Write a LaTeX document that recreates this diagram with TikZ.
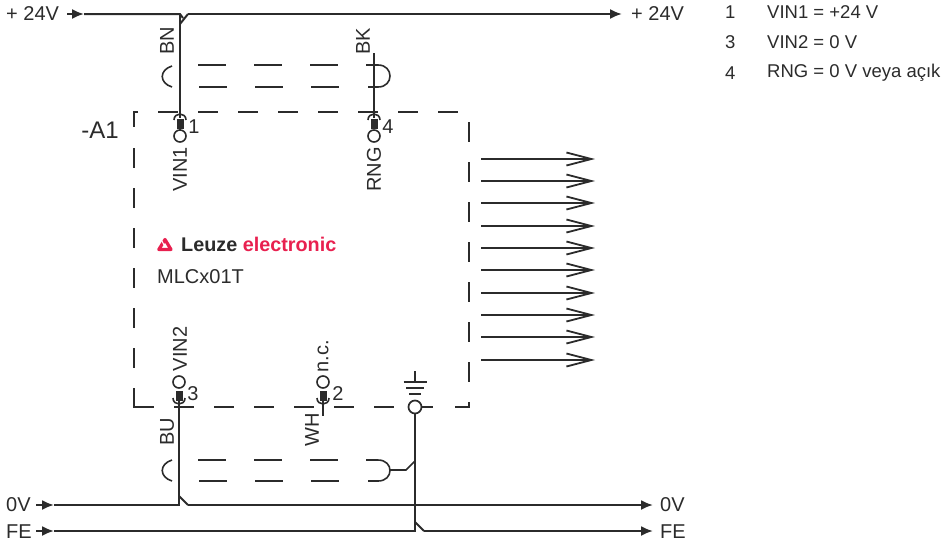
\documentclass[tikz,border=0pt]{standalone}
\usepackage{fontspec}
\setmainfont{Liberation Sans}
\usetikzlibrary{arrows.meta}
\definecolor{wirecol}{HTML}{2B2B2B}
\definecolor{leuzered}{HTML}{E8204F}
\tikzset{
    wire/.style={draw=wirecol,line width=2pt},
    thin wire/.style={draw=wirecol,line width=1.6pt},
    box dash/.style={draw=wirecol,line width=1.7pt,dash pattern=on 20pt off 20pt},
    box edge/.style={draw=wirecol,line width=1.7pt},
    in tip/.style={-{Latex[length=12pt,width=10pt]}},
    out tip/.style={-{Straight Barb[length=25pt,width=13pt,line width=1.8pt]}},
    pincirc/.style={draw=wirecol,circle,line width=1.6pt,fill=white,minimum size=12pt,inner sep=0pt},
    pinplug/.style={fill=wirecol,minimum width=7pt,minimum height=10pt,inner sep=0pt},
    txt/.style={text=wirecol,inner sep=0pt,font=\fontsize{20}{20}\selectfont},
    legend/.style={text=wirecol,inner sep=0pt,anchor=west,font=\fontsize{18.5}{19}\selectfont},
}
\begin{document}
\begin{tikzpicture}[x=1pt,y=-1pt]
        \useasboundingbox (0,0) rectangle (941,550);

        % supply labels
        \node[txt,anchor=west] (l24) at (6,14) {+ 24V};
        \node[txt,anchor=west] (r24) at (631,14) {+ 24V};
        \node[txt,anchor=west] (l0) at (6,505) {0V};
        \node[txt,anchor=west] (r0) at (660,505) {0V};
        \node[txt,anchor=west] (lfe) at (6,532) {FE};
        \node[txt,anchor=west] (rfe) at (660,532) {FE};

        % legend
        \node[legend] (n1) at (725,12) {1};
        \node[legend] (v1) at (767,12) {VIN1 = +24 V};
        \node[legend] (n3) at (725,42) {3};
        \node[legend] (v3) at (767,42) {VIN2 = 0 V};
        \node[legend] (n4) at (725,73) {4};
        \node[legend] (v4) at (767,73) {RNG = 0 V veya açık};

        % dashed device box
        \path[box edge] (138,112) -- (134,112) -- (134,127);
        \path[box dash] (158,112) -- (458,112);
        \path[box dash] (134,148) -- (134,368);
        \path[box edge] (134,388) -- (134,407) -- (154,407);
        \path[box dash] (174,407) -- (394,407);
        \path[box edge] (422,407) -- (433,407);
        \path[box edge] (455,407) -- (469,407) -- (469,402);
        \path[box dash] (469,122) -- (469,382);

        % pins
        \node[pincirc] (vin1) at (180,136) {};
        \node[pinplug] (plug1) at (180,123.5) {};
        \node[pincirc] (rng) at (374,136) {};
        \node[pinplug] (plug4) at (374,123.5) {};
        \node[pincirc] (vin2) at (179,382) {};
        \node[pinplug] (plug3) at (179,395.5) {};
        \node[pincirc] (nc) at (323,382) {};
        \node[pinplug] (plug2) at (323,395.5) {};
        \node[circle,draw=wirecol,line width=1.7pt,minimum size=13pt,inner sep=0pt] (fe) at (415,407) {};

        \node[txt] (t1) at (194,127) {1};
        \node[txt] (t4) at (388,127) {4};
        \node[txt] (t3) at (193,394) {3};
        \node[txt] (t2) at (338,394) {2};

        \node[txt,rotate=90] (tvin1) at (180,169.5) {VIN1};
        \node[txt,rotate=90] (trng) at (374,169.5) {RNG};
        \node[txt,rotate=90] (tvin2) at (180,349) {VIN2};
        \node[txt,rotate=90] (tnc) at (323,356) {n.c.};
        \node[txt,rotate=90] (tbn) at (167,41) {BN};
        \node[txt,rotate=90] (tbk) at (363,41) {BK};
        \node[txt,rotate=90] (tbu) at (167,432) {BU};
        \node[txt,rotate=90] (twh) at (312,430) {WH};

        \node[txt,font=\fontsize{24}{24}\selectfont] (a1) at (100,130) {-A1};
        \node[txt,anchor=west,font=\fontsize{20}{20}\selectfont] (type) at (157,277) {MLCx01T};
        \node[txt,anchor=west,font=\fontsize{19.8}{20}\bfseries] (brand) at (181,244.5) {Leuze \textcolor{leuzered}{electronic}};

        % logo
        \path[draw=leuzered,line width=3.2pt,line join=round] (165,239.5) -- (171,249.5) -- (158.8,249.5) -- cycle;
        \path[draw=white,line width=1pt] (164,245) -- (160,237);

        % +24V rail
        \coordinate (in24) at (67,14);
        \coordinate (tip24) at (84,14);
        \coordinate (bend24) at (180,14);
        \coordinate (cont24) at (188,14);
        \coordinate (dia24) at (180,24);
        \coordinate (out24) at (622,14);
        \path[wire,in tip] (in24) -- (tip24);
        \path[wire] (tip24) -- (bend24) -- (183,18);
        \path[wire] (dia24) -- (cont24);
        \path[wire,in tip] (cont24) -- (out24);
        \path[wire] (bend24) -- (plug1);
        \path[wire] (plug1) -- (vin1);

        % 0V rail
        \coordinate (in0) at (36,505);
        \coordinate (tip0) at (54,505);
        \coordinate (bend0) at (179,505);
        \coordinate (cont0) at (188,505);
        \coordinate (dia0) at (179,496);
        \coordinate (out0) at (653,505);
        \path[wire,in tip] (in0) -- (tip0);
        \path[wire] (tip0) -- (bend0) -- (plug3);
        \path[wire] (dia0) -- (cont0);
        \path[wire,in tip] (cont0) -- (out0);

        % FE rail
        \coordinate (infe) at (36,531);
        \coordinate (tipfe) at (54,531);
        \coordinate (bendfe) at (415,531);
        \coordinate (contfe) at (424,531);
        \coordinate (diafe) at (415,522);
        \coordinate (outfe) at (653,531);
        \path[wire,in tip] (infe) -- (tipfe);
        \path[wire] (tipfe) -- (bendfe) -- (fe);
        \path[wire] (diafe) -- (contfe);
        \path[wire,in tip] (contfe) -- (outfe);

        % free wires
        \coordinate (bkend) at (374,53);
        \coordinate (whend) at (323,416);
        \path[thin wire] (bkend) -- (plug4);
        \path[thin wire] (plug2) -- (whend);

        % pin caps
        \path[thin wire] (174,120) .. controls (174,112) and (186,112) .. (186,120);
        \path[thin wire] (368,120) .. controls (368,112) and (380,112) .. (380,120);
        \path[thin wire] (173,398) .. controls (173,406) and (185,406) .. (185,398);
        \path[thin wire] (317,398) .. controls (317,406) and (329,406) .. (329,398);

        % cable shields, top and bottom
        \foreach \x in {198,254,310} {
            \path[thin wire] (\x,65) -- ++(28,0);
            \path[thin wire] (\x+1,87) -- ++(28,0);
            \path[thin wire] (\x,460) -- ++(28,0);
            \path[thin wire] (\x+1,481) -- ++(28,0);
        }
        \path[thin wire] (172,66) .. controls (159,70) and (159,83) .. (172,87);
        \path[thin wire] (172,460) .. controls (159,464) and (159,477) .. (172,481);
        \path[thin wire] (366,65) -- (378,65) .. controls (394,65) and (394,87) .. (378,87) -- (368,87);
        \path[thin wire] (366,460) -- (378,460) .. controls (394,460) and (394,481) .. (378,481) -- (368,481);
        \coordinate (shield) at (390,470);
        \coordinate (shieldk) at (406,470);
        \coordinate (shieldj) at (415,461);
        \path[thin wire] (shield) -- (shieldk) -- (shieldj);

        % earth symbol
        \coordinate (earth) at (415,371);
        \coordinate (earthb) at (415,382);
        \path[thin wire] (earth) -- (earthb);
        \path[thin wire] (403.5,382) -- (427,382);
        \path[thin wire] (406,388) -- (424,388);
        \path[thin wire] (409,394) -- (421,394);

        % outputs
        \foreach \y [count=\i] in {159,181,203,226,248,270,293,315,337,360} {
            \coordinate (os\i) at (481,\y);
            \coordinate (oe\i) at (595,\y);
            \path[wire,out tip] (os\i) -- (oe\i);
        }
\end{tikzpicture}
\end{document}
